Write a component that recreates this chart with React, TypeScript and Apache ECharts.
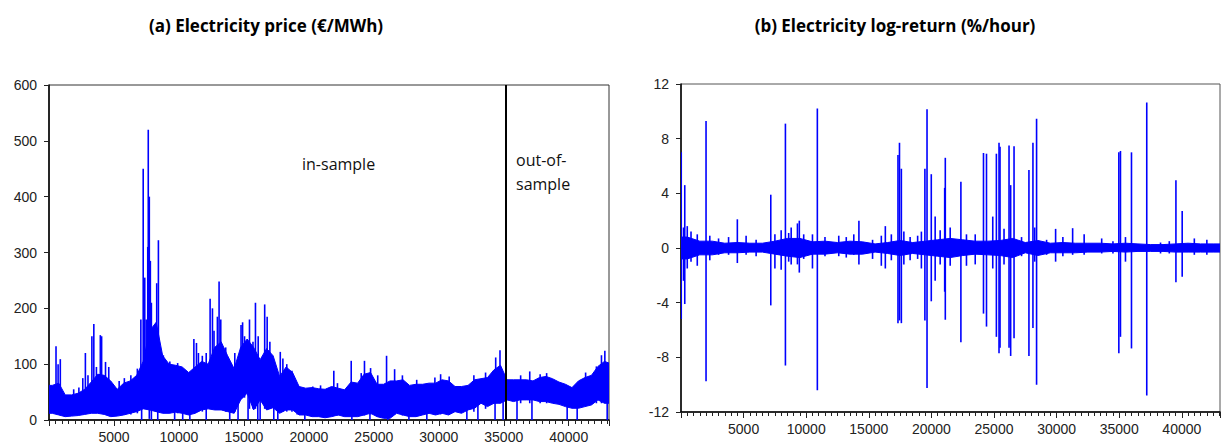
import React, { useEffect, useRef } from 'react';
import * as echarts from 'echarts';

const BLUE = '#0000ff';

// ---- Panel (a): electricity price (€/MWh), band read per 500-hour bin ----
const PRICE_BIN = 500;
const PRICE_MAX_X = 43100;
const priceHigh = [
  62, 66, 45, 45, 48, 55, 68, 82, 80, 70,
  55, 66, 70, 80, 105, 160, 175, 115, 100, 98,
  95, 85, 95, 105, 100, 130, 140, 115, 92, 130,
  145, 130, 108, 128, 115, 78, 95, 85, 60, 57,
  58, 56, 55, 60, 57, 54, 68, 66, 82, 85,
  64, 64, 70, 70, 72, 62, 64, 64, 66, 66,
  72, 70, 60, 60, 62, 72, 74, 76, 90, 98,
  72, 72, 72, 72, 70, 76, 78, 74, 68, 64,
  58, 70, 76, 80, 96, 105, 102,
];
const priceLow = [
  12, 9, 6, 7, 8, 10, 12, 12, 10, 6,
  7, 9, 12, 15, 20, 18, 15, 12, 12, 14,
  12, 9, 12, 18, 20, 18, 18, 15, 12, 36,
  48, 18, 36, 18, 22, 12, 18, 18, 9, 9,
  6, 6, 4, 6, 9, 6, 6, 6, 9, 12,
  6, 3, 3, 12, 9, 6, 6, 9, 12, 9,
  12, 9, 15, 12, 18, 21, 30, 24, 30, 30,
  36, 33, 36, 36, 36, 33, 33, 30, 28, 24,
  21, 21, 24, 27, 36, 30, 30,
];
// [hour, top, bottom]
const priceSpikes: [number, number, number][] = [
  [540, 132, 15], [700, 100, 15], [870, 109, 15], [1900, 55, 10], [2300, 58, 10], [2600, 75, 15], [2800, 120, 15], [3000, 80, 15], [3300, 150, 15],
  [3450, 172, 15], [3650, 95, 15], [3950, 152, 15], [4050, 150, 15], [4350, 104, 15],
  [4600, 95, 10], [5400, 70, 10], [5800, 75, 10], [6300, 80, 10], [6800, 92, 12], [7070, 180, 20], [7130, 60, 0], [7250, 450, 20], [7370, 255, 20],
  [7480, 180, 20], [7600, 310, 20], [7640, 520, 20], [7720, 400, 2], [7800, 285, 20],
  [7880, 210, 0], [7960, 150, 20], [8290, 245, 15], [8370, 100, 0], [8420, 322, 15],
  [8800, 116, 15], [9300, 105, 12], [9670, 60, 0], [9900, 102, 12], [10290, 60, 0], [10840, 60, 0], [11150, 145, 15],
  [11350, 138, 15], [11500, 120, 15], [11800, 115, 15], [12100, 120, 0], [12400, 217, 20], [12580, 200, 20],
  [12700, 160, 20], [12960, 185, 20], [13090, 248, 20], [13220, 180, 20], [13600, 130, 15], [13910, 60, 0],
  [14300, 120, 15], [14550, 80, 0], [14780, 170, 40], [14900, 175, 40], [15050, 150, 40], [15320, 80, 0],
  [15430, 180, 20], [15700, 140, 20], [15890, 210, 20], [16070, 80, 0], [16100, 150, 30], [16250, 80, 0],
  [16600, 207, 20], [16790, 185, 20], [17000, 140, 20], [17300, 80, 0], [17610, 60, 0], [17800, 122, 15],
  [18000, 110, 15], [18300, 100, 15], [18700, 88, 15], [19100, 62, 10], [19690, 40, 0], [20300, 60, 8], [20900, 62, 8], [21920, 88, 8], [22200, 66, 8], [23260, 106, 8], [23310, 50, 0],
  [24030, 84, 8], [24280, 106, 8], [24700, 50, 0], [24750, 93, 10], [25300, 80, 8], [25980, 115, 5],
  [26080, 50, 0], [26600, 91, 10], [27200, 80, 8], [27700, 50, 0], [28300, 72, 8], [29080, 50, 0], [29700, 76, 10], [30140, 82, 10],
  [30800, 78, 10], [32160, 50, 0], [32700, 80, 15], [33010, 50, 0], [33600, 85, 20], [34330, 60, 0], [34380, 112, 30], [34710, 125, 30],
  [34950, 60, 0], [36020, 50, 0], [36300, 80, 30], [37000, 87, 30], [37170, 50, 0], [37800, 82, 30], [38300, 84, 30], [39880, 50, 0],
  [40650, 50, 0], [41300, 85, 25], [42130, 96, 30], [42520, 116, 30], [42780, 124, 30], [42960, 60, 0],
];
const sampleSplit = 35150;

// ---- Panel (b): log-return (%/hour), band read per 1000-hour bin ----
const RET_BIN = 1000;
const RET_MAX_X = 43050;
const returnHigh = [
  0.8, 0.5, 0.5, 0.35, 0.4, 0.35, 0.35, 0.5, 0.7, 0.7,
  0.45, 0.5, 0.4, 0.5, 0.45, 0.3, 0.4, 0.55, 0.4, 0.5,
  0.6, 0.7, 0.6, 0.5, 0.5, 0.55, 0.7, 0.4, 0.55, 0.35,
  0.4, 0.35, 0.35, 0.35, 0.3, 0.35, 0.3, 0.25, 0.25, 0.3,
  0.35, 0.3, 0.3, 0.3,
];
const returnLow = [
  -0.8, -0.5, -0.5, -0.35, -0.35, -0.3, -0.3, -0.45, -0.6, -0.7,
  -0.45, -0.45, -0.35, -0.45, -0.45, -0.3, -0.4, -0.55, -0.4, -0.5,
  -0.6, -0.7, -0.55, -0.45, -0.5, -0.55, -0.7, -0.35, -0.55, -0.35,
  -0.35, -0.35, -0.3, -0.3, -0.25, -0.3, -0.25, -0.25, -0.25, -0.3,
  -0.3, -0.3, -0.3, -0.3,
];
const returnSpikes: [number, number, number][] = [
  [20, 7.0, -5.2], [200, 1.5, -2.4], [300, 4.6, -4.1], [500, 1.6, -1.5], [800, 1.2, -1.0], [1300, 1.0, -1.3],
  [2000, 9.3, -9.75], [2300, 0.9, -0.9], [3000, 0.7, -0.5], [3800, 0.8, -0.5], [4500, 2.1, -1.1], [5200, 0.9, -0.5], [6000, 0.6, -0.6], [7170, 3.9, -4.2],
  [7500, 1.0, -1.5], [8000, 1.3, -1.6], [8340, 9.1, -8.6], [8600, 1.1, -1.0], [8800, 1.5, -1.2], [9300, 1.8, -1.2],
  [9450, 2.0, -1.8], [9800, 1.0, -0.8], [10500, 1.0, -1.5], [10890, 10.2, -10.4], [11500, 0.8, -0.6], [12600, 0.9, -0.6], [13200, 0.8, -0.7], [13800, 1.0, -0.5],
  [14210, 2.0, -1.2], [15300, 0.6, -0.8], [16000, 0.9, -1.3], [16320, 1.6, -1.5], [16800, 1.0, -0.9], [17330, 6.8, -5.5],
  [17450, 7.7, -5.3], [17600, 5.8, -5.5], [17800, 1.2, -1.2], [18300, 0.8, -0.9], [18900, 0.9, -0.8], [19200, 1.2, -1.5],
  [19480, 5.8, -5.3], [19650, 10.15, -10.25], [19990, 5.4, -3.9], [20300, 2.3, -2.4], [20700, 1.3, -1.2], [21060, 4.4, -3.2],
  [21110, 6.6, -5.25], [21500, 1.5, -1.3], [22355, 4.85, -6.9], [22800, 1.0, -1.3], [23500, 1.0, -1.2], [24160, 6.95, -4.8],
  [24400, 6.9, -5.75], [24900, 2.3, -1.5], [25190, 6.9, -6.5], [25400, 7.7, -7.7], [25480, 7.4, -7.3],
  [25800, 1.4, -1.2], [26200, 7.5, -7.3], [26330, 4.6, -7.9], [26600, 7.45, -6.6], [27200, 0.8, -0.6], [27790, 5.7, -7.9], [28110, 7.7, -5.85],
  [28250, 1.5, -1.0], [28400, 9.45, -10.0], [29200, 0.6, -0.5], [29920, 1.4, -1.0], [30500, 0.8, -0.6], [31280, 1.45, -0.5], [32200, 1.0, -0.5],
  [33600, 0.7, -0.4], [34500, 0.5, -0.4], [34970, 7.0, -7.7], [35100, 7.1, -6.5], [35500, 0.8, -1.0], [35980, 7.0, -7.35],
  [37200, 10.65, -10.8], [38300, 0.4, -0.4], [39000, 0.5, -0.4], [39530, 4.95, -2.5], [40030, 2.7, -2.1], [41000, 0.7, -0.5], [42000, 0.6, -0.5],
];

const titleA = '(a) Electricity price (€/MWh)';
const titleB = '(b) Electricity log-return (%/hour)';

function bandPoints(high: number[], low: number[], bin: number, maxX: number) {
  const pts: number[][] = [[0, high[0], low[0]]];
  high.forEach((h, i) => pts.push([Math.min(i * bin + bin / 2, maxX), h, low[i]]));
  pts.push([maxX, high[high.length - 1], low[low.length - 1]]);
  return pts;
}

function bandSeries(pts: number[][], idx: number) {
  return {
    type: 'custom',
    xAxisIndex: idx * 2,
    yAxisIndex: idx,
    data: pts,
    encode: { x: 0, y: [1, 2] },
    clip: true,
    silent: true,
    renderItem: (params: any, api: any) => {
      if (params.dataIndex !== 0) return null;
      const top = pts.map((d) => api.coord([d[0], d[1]]));
      const bottom = pts.map((d) => api.coord([d[0], d[2]])).reverse();
      return {
        type: 'polygon',
        shape: { points: top.concat(bottom) },
        style: { fill: BLUE, stroke: BLUE, lineWidth: 1 },
      };
    },
  };
}

function spikeSeries(spikes: [number, number, number][], idx: number, extra: any = {}) {
  return {
    type: 'custom',
    xAxisIndex: idx * 2,
    yAxisIndex: idx,
    data: spikes,
    encode: { x: 0, y: [1, 2] },
    clip: true,
    silent: true,
    renderItem: (_p: any, api: any) => {
      const a = api.coord([api.value(0), api.value(1)]);
      const b = api.coord([api.value(0), api.value(2)]);
      return {
        type: 'line',
        shape: { x1: a[0], y1: a[1], x2: b[0], y2: b[1] },
        style: { stroke: BLUE, lineWidth: 1.6 },
      };
    },
    ...extra,
  };
}

const labelStyle = { color: '#222', fontFamily: 'Liberation Sans', fontSize: 14 };

function xAxes(gridIndex: number, maxX: number) {
  return [
    {
      type: 'value', gridIndex, min: 0, max: maxX, interval: 5000, position: 'bottom',
      axisLine: { show: true, onZero: false, lineStyle: { color: '#000', width: 1.5 } },
      axisTick: { show: true, length: 6, lineStyle: { color: '#222', width: 1 } },
      axisLabel: {
        ...labelStyle, margin: 10,
        formatter: (v: number) => (v > 0 && v % 5000 === 0 ? String(v) : ''),
      },
      splitLine: { show: false },
    },
    {
      type: 'value', gridIndex, min: 0, max: maxX, interval: 500, position: 'bottom',
      axisLine: { show: false, onZero: false },
      axisTick: { show: true, length: 4, lineStyle: { color: '#222', width: 1 } },
      axisLabel: { show: false },
      splitLine: { show: false },
    },
  ];
}

export default function App() {
  const ref = useRef<HTMLDivElement>(null);
  useEffect(() => {
    if (!ref.current) return;
    const chart = echarts.init(ref.current, undefined, { renderer: 'svg' });
    const pricePts = bandPoints(priceHigh, priceLow, PRICE_BIN, PRICE_MAX_X);
    const retPts = bandPoints(returnHigh, returnLow, RET_BIN, RET_MAX_X);
    chart.setOption({
      animation: false,
      backgroundColor: '#fff',
      grid: [
        { left: 49, top: 85, width: 560, height: 335, show: true, borderColor: '#333', borderWidth: 1 },
        { left: 681, top: 84, width: 540, height: 328, show: true, borderColor: '#555', borderWidth: 1 },
      ],
      xAxis: [...xAxes(0, PRICE_MAX_X), ...xAxes(1, RET_MAX_X)],
      yAxis: [
        {
          type: 'value', gridIndex: 0, min: 0, max: 600, interval: 100,
          axisLine: { show: true, lineStyle: { color: '#000', width: 1.5 } },
          axisTick: { show: true, length: 5, lineStyle: { color: '#222' } },
          axisLabel: { ...labelStyle, margin: 12 },
          splitLine: { show: false },
        },
        {
          type: 'value', gridIndex: 1, min: -12, max: 12, interval: 4,
          axisLine: { show: true, onZero: false, lineStyle: { color: '#000', width: 1.5 } },
          axisTick: { show: true, length: 5, lineStyle: { color: '#222' } },
          axisLabel: { ...labelStyle, margin: 12 },
          splitLine: { show: false },
        },
      ],
      series: [
        bandSeries(pricePts, 0),
        spikeSeries(priceSpikes, 0, {
          markLine: {
            silent: true, symbol: 'none', label: { show: false },
            lineStyle: { color: '#000', width: 2, type: 'solid' },
            data: [{ xAxis: sampleSplit }],
          },
        }),
        bandSeries(retPts, 1),
        spikeSeries(returnSpikes, 1),
      ],
      graphic: [
        { type: 'text', x: 266, y: 25, style: { text: titleA, fill: '#000', font: 'bold 17px "Open Sans"', align: 'center', verticalAlign: 'middle' } },
        { type: 'text', x: 895, y: 25, style: { text: titleB, fill: '#000', font: 'bold 17px "Open Sans"', align: 'center', verticalAlign: 'middle' } },
        { type: 'text', x: 302, y: 164, style: { text: 'in-sample', fill: '#111', font: '16px "Open Sans"', align: 'left', verticalAlign: 'middle' } },
        { type: 'text', x: 516, y: 160, style: { text: 'out-of-', fill: '#111', font: '16px "Open Sans"', align: 'left', verticalAlign: 'middle' } },
        { type: 'text', x: 516, y: 184, style: { text: 'sample', fill: '#111', font: '16px "Open Sans"', align: 'left', verticalAlign: 'middle' } },
      ],
    });
    return () => chart.dispose();
  }, []);
  return (
    <div
      ref={ref}
      style={{ position: 'fixed', left: 0, top: 0, width: 1223, height: 448, background: '#fff' }}
    />
  );
}
